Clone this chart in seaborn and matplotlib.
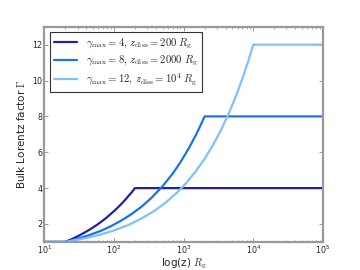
import matplotlib
matplotlib.use("Agg")
import matplotlib.pyplot as plt
import pandas as pd
import seaborn as sns


# Wartosci
labels = [
    r"$\gamma_{\rm max}=4,\, z_{\rm diss}=200\ R_{\rm g}$",
    r"$\gamma_{\rm max}=8,\, z_{\rm diss}=2000\ R_{\rm g}$",
    r"$\gamma_{\rm max}=12,\, z_{\rm diss}=10^4\ R_{\rm g}$",
]
colors = ["#2020a8", "#1a72f0", "#80c0ff"]

z_1 = [10, 20, 25, 30, 37, 45, 55, 65, 77, 90, 105, 120, 140, 160, 180, 200,
       100000]
gamma_1 = [1.0, 1.0, 1.16, 1.31, 1.5, 1.69, 1.91, 2.11, 2.33, 2.56, 2.79,
           3.01, 3.28, 3.54, 3.77, 4.0, 4.0]

z_2 = [10, 20, 30, 45, 65, 90, 130, 180, 250, 350, 500, 700, 900, 1200,
       1500, 1750, 2000, 100000]
gamma_2 = [1.0, 1.0, 1.18, 1.39, 1.62, 1.87, 2.21, 2.56, 2.97, 3.48, 4.11,
           4.82, 5.44, 6.25, 6.96, 7.5, 8.0, 8.0]

z_3 = [10, 20, 35, 60, 100, 160, 250, 380, 550, 800, 1100, 1500, 2000, 2700,
       3500, 4500, 5700, 7000, 8500, 10000, 100000]
gamma_3 = [1.0, 1.0, 1.17, 1.38, 1.64, 1.94, 2.31, 2.73, 3.19, 3.74, 4.3,
           4.95, 5.63, 6.47, 7.3, 8.21, 9.18, 10.12, 11.1, 12.0, 12.0]

df = pd.concat([
    pd.DataFrame({"z": z_1, "gamma": gamma_1, "model": labels[0]}),
    pd.DataFrame({"z": z_2, "gamma": gamma_2, "model": labels[1]}),
    pd.DataFrame({"z": z_3, "gamma": gamma_3, "model": labels[2]}),
])

sns.set_style("ticks")
plt.rcParams["mathtext.fontset"] = "cm"
plt.rcParams["font.family"] = ["DejaVu Sans"]

fig = plt.figure(figsize=(3.6, 2.7), dpi=100)
ax = fig.add_axes([0.123, 0.104, 0.774, 0.797])

sns.lineplot(data=df, x="z", y="gamma", hue="model", hue_order=labels,
             palette=colors, linewidth=1.6, sort=False, estimator=None, ax=ax)

ax.set_xscale("log")
ax.set_xlim(10, 1e5)
ax.set_ylim(1, 13)
ax.set_yticks([2, 4, 6, 8, 10, 12])

ax.set_xlabel(r"log(z) $R_{\rm g}$", fontsize=7.5, labelpad=0)
ax.set_ylabel(r"Bulk Lorentz factor $\Gamma$", fontsize=7.5, labelpad=4)

for spine in ax.spines.values():
    spine.set_visible(True)
    spine.set_color("#999999")
    spine.set_linewidth(1.6)

ax.tick_params(which="both", direction="in", top=True, right=True,
               color="#888888", labelsize=5.8, pad=1.5)
ax.tick_params(which="major", length=3, width=0.6)
ax.tick_params(which="minor", length=1.5, width=0.5)

handles, _ = ax.get_legend_handles_labels()
leg = ax.legend(handles, labels, loc="upper left", fontsize=7.7,
                frameon=True, fancybox=False, edgecolor="black",
                handlelength=2.2, borderaxespad=0.5, labelspacing=0.3,
                borderpad=0.4)
leg.get_frame().set_linewidth(0.8)
for line in leg.get_lines():
    line.set_linewidth(1.6)

plt.savefig("out.png", dpi=100)
plt.close()
